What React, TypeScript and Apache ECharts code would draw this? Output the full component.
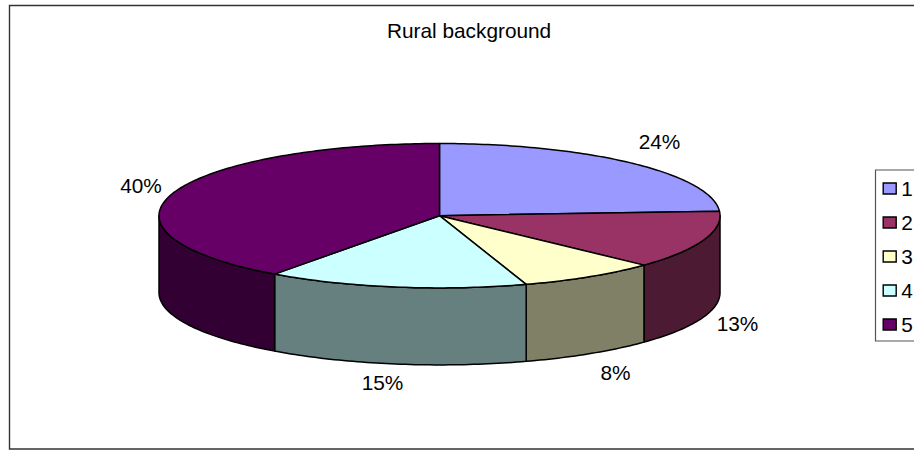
import React, { useEffect, useRef } from "react";
import * as echarts from "echarts";

const title = "Rural background";
const categories = ["1", "2", "3", "4", "5"];
const shares = [24, 13, 8, 15, 40];
const topColors = ["#9999FF", "#993366", "#FFFFCC", "#CCFFFF", "#660066"];
const wallColors = ["#4D2680", "#4D1A33", "#808066", "#668080", "#330033"];
const labelCentres = [
  [659.5, 141.2],
  [737.5, 323.6],
  [615.5, 372.8],
  [382.5, 382],
  [141, 185],
];

const CX = 439.5;
const CY = 215.7;
const RX = 280.5;
const RY = 72.2;
const DEPTH = 77;
const FONT = "'Liberation Sans', Arial, sans-serif";
const FONT_SIZE = 20.8;

const total = shares.reduce((a, b) => a + b, 0);

// Angle runs clockwise from twelve o'clock, in radians.
const rimPoint = (t: number, drop = 0): number[] => [
  CX + RX * Math.sin(t),
  CY - RY * Math.cos(t) + drop,
];

const arcAngles = (from: number, to: number): number[] => {
  const steps = Math.max(2, Math.ceil(((to - from) * 180) / Math.PI));
  const list: number[] = [];
  for (let i = 0; i <= steps; i++) list.push(from + ((to - from) * i) / steps);
  return list;
};

const sliceChildren = (index: number) => {
  const before = shares.slice(0, index).reduce((a, b) => a + b, 0);
  const start = (before / total) * Math.PI * 2;
  const end = ((before + shares[index]) / total) * Math.PI * 2;
  const children: any[] = [];
  const edge = { stroke: "#000", lineWidth: 1.5, lineJoin: "round" };

  // The outer wall shows only on the front half of the disc.
  const wallFrom = Math.max(start, Math.PI / 2);
  const wallTo = Math.min(end, (Math.PI * 3) / 2);
  if (wallTo > wallFrom) {
    const angles = arcAngles(wallFrom, wallTo);
    const points = [
      ...angles.map((t) => rimPoint(t)),
      ...angles.slice().reverse().map((t) => rimPoint(t, DEPTH)),
    ];
    children.push({
      type: "polygon",
      shape: { points },
      style: { fill: wallColors[index], ...edge },
    });
  }

  children.push({
    type: "polygon",
    shape: { points: [[CX, CY], ...arcAngles(start, end).map((t) => rimPoint(t))] },
    style: { fill: topColors[index], ...edge },
  });

  children.push({
    type: "text",
    style: {
      text: `${shares[index]}%`,
      x: labelCentres[index][0],
      y: labelCentres[index][1],
      align: "center",
      verticalAlign: "middle",
      fill: "#000",
      font: `${FONT_SIZE}px ${FONT}`,
    },
  });
  return children;
};

export default function App() {
  const ref = useRef<HTMLDivElement>(null);

  useEffect(() => {
    const chart = echarts.init(ref.current!, null, { renderer: "svg" });
    chart.setOption({
      animation: false,
      backgroundColor: "#fff",
      title: {
        text: title,
        left: 382,
        top: 15,
        textAlign: "left",
        textStyle: {
          fontFamily: FONT,
          fontSize: FONT_SIZE,
          fontWeight: "normal",
          color: "#000",
        },
      },
      legend: {
        orient: "vertical",
        left: 875.5,
        top: 170,
        padding: [8, 30, 6, 7],
        itemWidth: 13,
        itemHeight: 11,
        itemGap: 13,
        icon: "rect",
        selectedMode: false,
        borderColor: "#555",
        borderWidth: 1.2,
        backgroundColor: "#fff",
        data: categories,
        itemStyle: { borderColor: "#000", borderWidth: 1.4 },
        textStyle: {
          fontFamily: FONT,
          fontSize: FONT_SIZE,
          color: "#000",
          padding: [0, 0, 0, 0],
        },
      },
      graphic: [
        {
          type: "rect",
          silent: true,
          z: -10,
          shape: { x: 9.5, y: 5.5, width: 940, height: 443.5 },
          style: { fill: "none", stroke: "#333", lineWidth: 1.4 },
        },
      ],
      series: categories.map((name, index) => ({
        type: "custom",
        name,
        coordinateSystem: "none",
        silent: true,
        itemStyle: { color: topColors[index] },
        data: [[shares[index]]],
        renderItem: () => ({ type: "group", children: sliceChildren(index) }),
      })),
    });
    return () => chart.dispose();
  }, []);

  return (
    <div
      ref={ref}
      style={{ position: "fixed", left: 0, top: 0, width: 914, height: 450 }}
    />
  );
}
